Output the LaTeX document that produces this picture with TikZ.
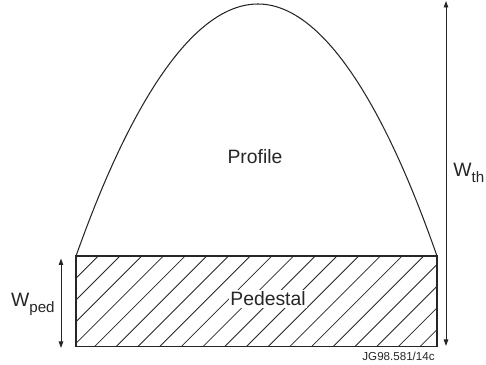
\documentclass[tikz,border=0pt]{standalone}
\usepackage{fontspec}
\setmainfont{Liberation Sans}
\usetikzlibrary{arrows.meta,positioning}
\newcommand{\dimsub}[1]{\raisebox{-0.3em}{\fontsize{8.6}{10}\selectfont #1}}

\begin{document}
\begin{tikzpicture}[
 x=1cm,y=1cm,font=\fontsize{11}{13}\selectfont,
 outline/.style={draw=black!85,line width=0.6pt},
 hatch/.style={draw=black!85,line width=0.45pt},
 dim/.style={{Triangle[length=1.3mm,width=0.9mm]}-{Triangle[length=1.3mm,width=0.9mm]},
             line width=0.5pt,draw=black!85},
 lbl/.style={inner sep=0pt,text=black!85}]
\useasboundingbox (0,0) rectangle (9.72,7.3);
\coordinate (pedbl) at (1.52,0.37);
\coordinate (pedtl) at (1.52,2.18);
\coordinate (pedtr) at (8.74,2.18);
\coordinate (peak) at (5.16,7.22);
% hatched pedestal
\begin{scope}
 \clip (pedbl) rectangle (pedtr);
 \foreach \k in {-2,...,20}
  \draw[hatch] ({\k*0.434-0.214},0) -- ++(2.6,2.6);
\end{scope}
\node[lbl,fill=white,inner sep=1pt,anchor=base] (pedestal) at (5.36,1.18) {Pedestal};
\draw[outline] (pedbl) rectangle (pedtr);
% profile
\draw[outline] (pedtl) parabola bend (peak) (pedtr);
\node[lbl,anchor=base] (profile) at (5.1,4.02) {Profile};
% widths
\coordinate (thtop) at (8.92,7.28);
\coordinate (thbot) at (8.92,0.38);
\draw[dim] (thbot) -- (thtop);
\node[lbl,anchor=base west] (wth) at (9.06,3.76) {W\dimsub{th}};
\coordinate (pedtop) at (1.22,2.13);
\coordinate (pedbot) at (1.22,0.34);
\draw[dim] (pedbot) -- (pedtop);
\node[lbl,anchor=base east] (wped) at (1.1,1.16) {W\dimsub{ped}};
\node[lbl,anchor=base east,font=\fontsize{6.6}{8}\selectfont] (tag) at (8.7,0.08) {JG98.581/14c};
\end{tikzpicture}
\end{document}
